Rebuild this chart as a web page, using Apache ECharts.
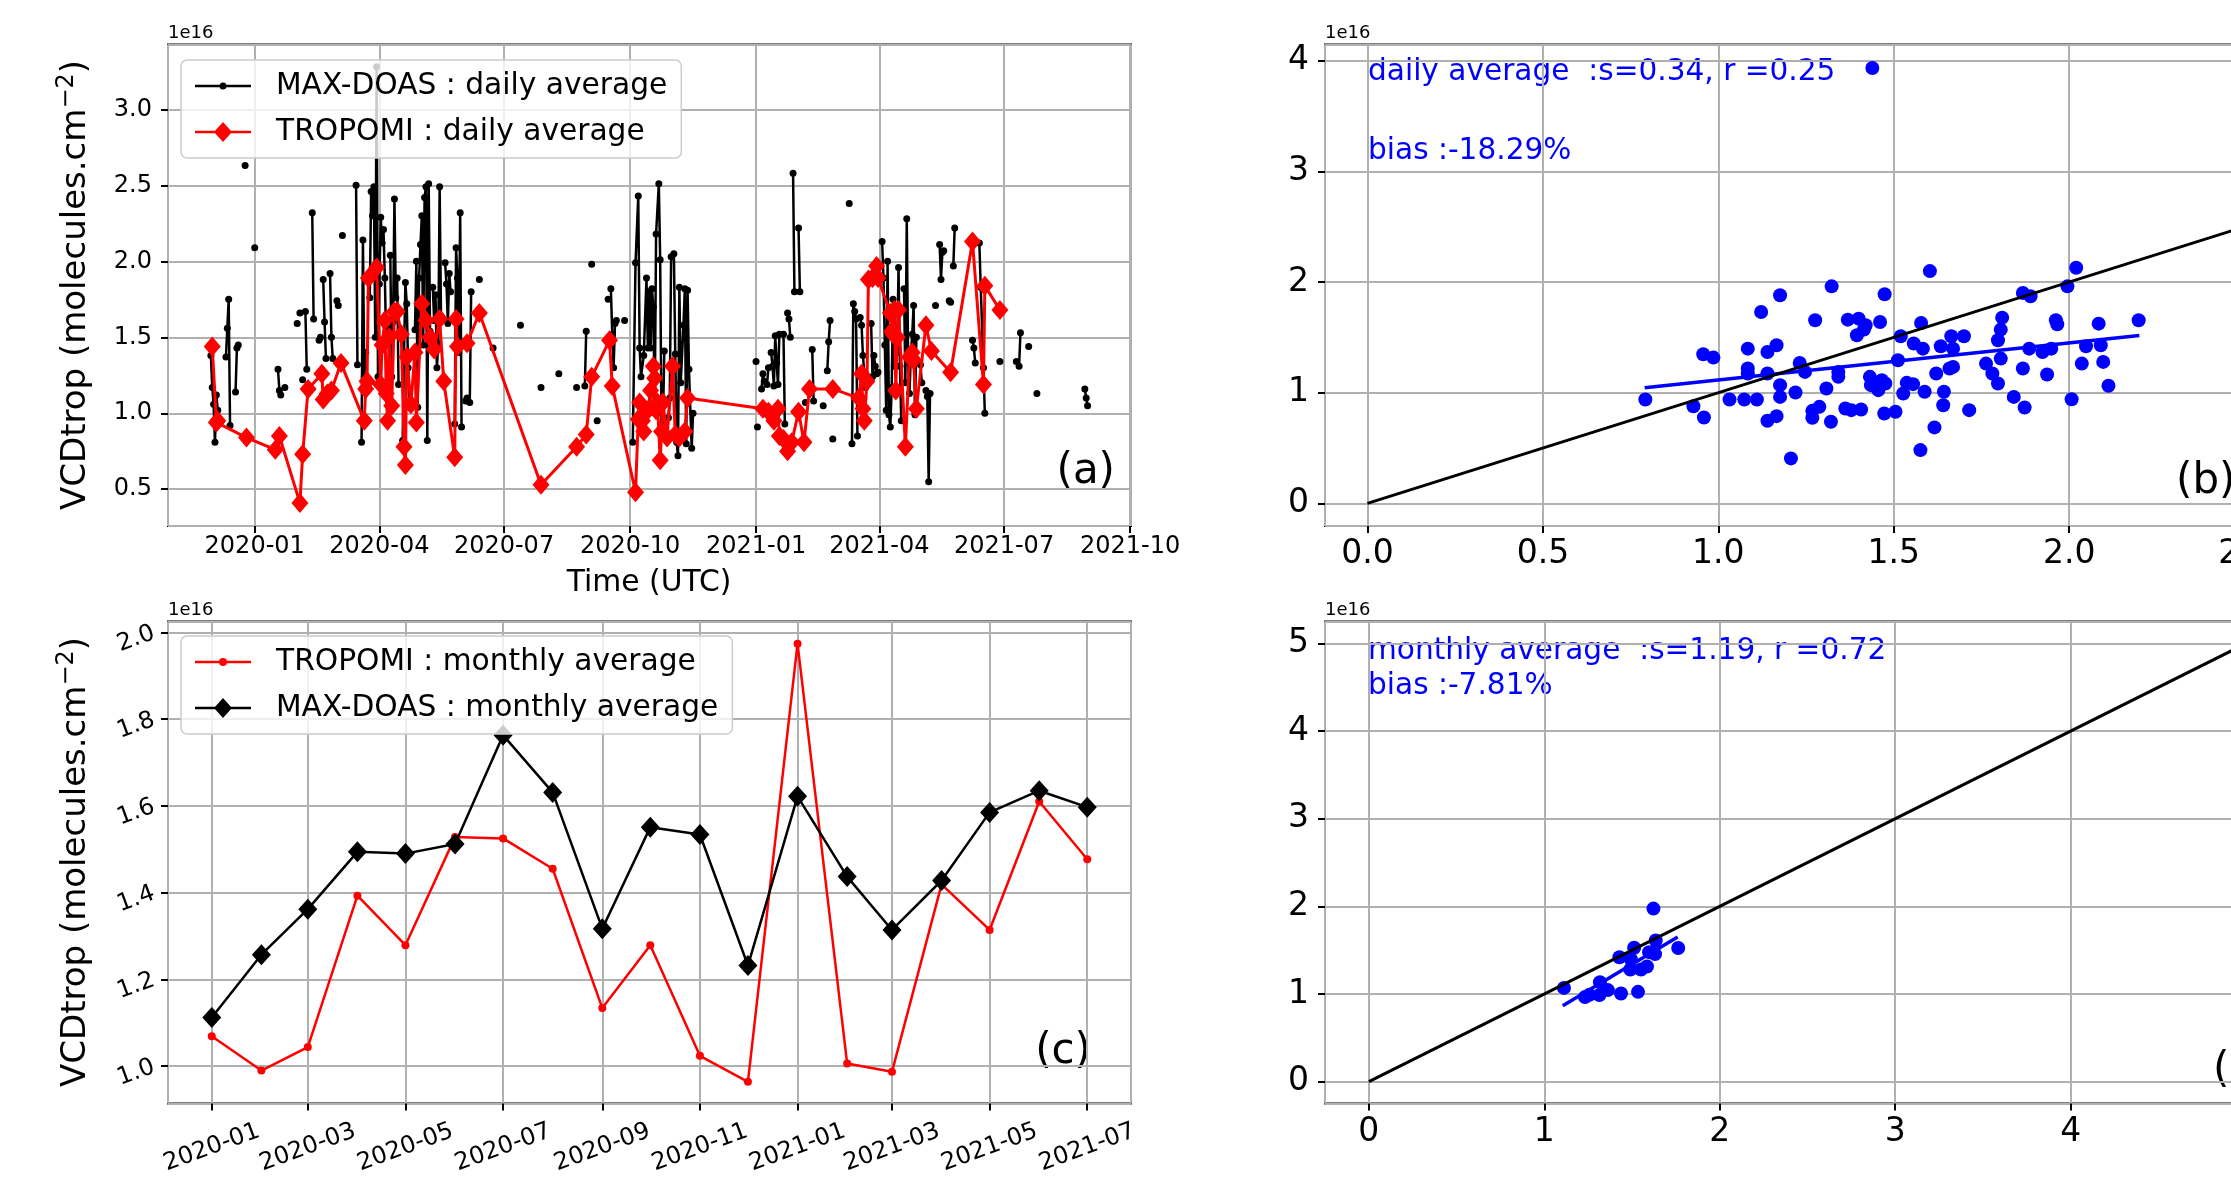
<!DOCTYPE html>
<html><head><meta charset="utf-8">
<script src="https://cdn.jsdelivr.net/npm/echarts@6/dist/echarts.min.js"></script>
<style>html,body{margin:0;padding:0;background:#fff}#c{width:2231px;height:1177px}</style>
</head><body><div id="c"></div>
<script>
// ---------------- DATA ----------------
// day offsets are counted from this date
const BASE_DATE = [2020, 1, 1];

// MAX-DOAS daily averages (1e16 molec/cm2): connected runs of [day offset, value]
const maxdoasDailyRuns = [
 [[-32,1.38],[-31,1.17],[-30,1.06],[-29,0.81],[-28,1.12],[-27,1.02]],
 [[-21,1.37],[-20,1.56],[-19,1.75],[-18,0.92]],
 [[-14,1.14],[-13,1.43],[-12,1.45]],
 [[-7,2.63]],
 [[0,2.09]],
 [[17,1.29],[18,1.15],[19,1.12]],
 [[22,1.17]],
 [[31,1.59]],
 [[33,1.66]],
 [[35,1.22]],
 [[37,1.67],[38,1.29]],
 [[42,2.32],[43,1.62]],
 [[47,1.48],[48,1.50]],
 [[50,1.88],[51,1.60],[52,1.36]],
 [[55,1.92],[56,1.50],[57,1.36]],
 [[60,1.74],[61,1.71]],
 [[64,2.17]],
 [[74,2.50],[75,1.32]],
 [[78,0.81],[79,2.14],[80,1.24],[81,1.40]],
 [[84,1.76],[85,2.46],[86,2.30],[87,2.49],[88,1.50],[89,3.28],[90,1.24],[91,1.85],[92,2.29],[93,2.12],[94,2.21],[95,1.89],[96,1.45],[97,1.56]],
 [[99,2.04],[100,1.24],[101,1.60],[102,2.41],[103,1.76],[104,1.89],[105,1.19]],
 [[108,0.82],[109,1.40],[110,1.86],[111,1.72],[112,1.30],[113,1.06],[114,1.04]],
 [[117,1.55],[118,2.00],[119,1.04],[120,1.89],[121,2.11],[122,2.30],[123,1.45],[124,2.42],[125,2.49],[126,0.82],[127,2.51],[128,1.54]],
 [[130,1.83],[131,1.61],[132,1.78],[133,1.30],[134,1.46],[135,2.49],[136,1.64]],
 [[139,1.99],[140,1.85],[141,1.59],[142,1.92],[143,1.80]],
 [[146,0.93],[147,2.09],[148,1.89],[149,1.40],[150,2.32],[151,0.91]],
 [[154,1.08],[155,1.10]],
 [[157,1.07],[158,1.80]],
 [[164,1.88]],
 [[174,1.43]],
 [[194,1.58]],
 [[209,1.17]],
 [[222,1.26]],
 [[235,1.17]],
 [[241,1.18],[242,1.54]],
 [[246,1.98]],
 [[250,0.95]],
 [[258,1.75]],
 [[260,1.82],[261,1.52],[262,1.30],[263,1.59],[264,1.61]],
 [[270,1.61]],
 [[276,0.81],[278,1.99],[280,2.43],[281,1.43],[282,1.24],[284,1.38],[286,1.89],[287,1.43],[288,1.80],[289,1.43],[290,1.82],[291,1.70],[292,1.00],[293,2.18],[295,2.51],[296,2.01],[297,0.85],[298,0.93],[299,1.41]],
 [[302,0.97],[303,1.10],[304,2.03],[306,2.05],[307,1.39],[308,0.81],[309,0.72],[310,1.83],[311,1.20],[313,1.58],[314,1.82],[315,0.80],[316,1.81],[317,1.29],[319,0.77],[320,1.00]],
 [[366,1.34]],
 [[367,0.91]],
 [[370,1.16],[371,1.26],[372,1.21]],
 [[374,1.19],[375,1.30]],
 [[377,1.40],[378,1.31],[379,1.18],[380,1.51],[381,1.33],[382,1.19],[383,1.52]],
 [[386,1.52],[387,0.93]],
 [[389,1.66],[390,1.62],[391,1.50]],
 [[393,2.58],[394,1.80]],
 [[397,2.22],[398,1.80]],
 [[402,1.07]],
 [[407,1.42],[408,1.08]],
 [[415,1.05]],
 [[418,1.28],[419,1.47],[420,1.61]],
 [[422,0.83]],
 [[434,2.38]],
 [[436,0.80],[437,1.72],[438,1.67],[439,1.62],[440,0.85]],
 [[442,1.63],[443,1.58],[444,1.38],[445,1.27],[446,1.17]],
 [[450,1.59],[451,1.24],[452,1.38],[453,1.31],[454,1.26],[455,1.27]],
 [[458,2.13],[459,1.89],[460,1.45],[461,1.02],[462,2.00],[463,0.99],[464,0.91],[465,1.17],[466,1.75],[467,1.31],[468,1.51],[469,1.40],[470,1.96],[471,1.31],[472,0.95]],
 [[474,1.82],[475,1.20],[476,2.28],[477,1.34],[478,1.13],[479,1.39],[480,1.52],[481,1.71],[482,0.99],[483,1.50]],
 [[486,1.32],[487,1.20]],
 [[490,1.15],[491,1.11],[492,0.55],[493,1.13]],
 [[497,1.71]],
 [[500,2.11],[501,1.88],[502,2.06],[503,2.07]],
 [[507,1.74],[508,1.73]],
 [[510,1.97],[511,2.22]],
 [[524,1.48],[525,1.43],[526,1.33]],
 [[529,2.12],[530,1.83],[532,1.30],[533,1.00]],
 [[544,1.34]],
 [[556,1.34]],
 [[558,1.31],[559,1.53]],
 [[565,1.44]],
 [[571,1.13]],
 [[606,1.16],[607,1.10],[608,1.05]]
];

// TROPOMI daily averages: [day offset, value]
const tropomiDaily = [
 [-31,1.44],[-28,0.94],[-27,0.95],[-6,0.84],[15,0.76],[18,0.85],[33,0.41],[35,0.73],[39,1.16],[49,1.26],
 [50,1.09],[53,1.13],[56,1.15],[63,1.33],[80,0.95],[81,1.16],[82,1.21],[83,1.89],[89,1.96],[92,1.19],
 [93,1.45],[95,1.61],[96,1.13],[97,0.95],[98,1.50],[100,1.05],[102,1.67],[104,1.67],[107,1.52],[109,0.78],
 [110,0.66],[111,1.37],[114,1.06],[117,1.40],[118,0.94],[122,1.72],[125,1.61],[128,1.50],[131,1.42],[135,1.62],
 [138,1.21],[146,0.71],[147,1.62],[148,1.44],[155,1.46],[164,1.66],[209,0.53],[235,0.78],[242,0.86],[246,1.24],
 [259,1.48],[261,1.18],[278,0.48],[280,0.96],[281,1.07],[283,0.95],[284,0.88],[287,1.02],[289,1.15],[291,1.31],
 [292,1.23],[293,1.02],[294,1.07],[296,0.69],[297,0.88],[298,1.07],[301,0.84],[305,1.31],[307,0.86],[310,0.84],
 [314,0.88],[316,1.10],[371,1.03],[375,1.01],[379,0.95],[382,1.03],[383,0.85],[386,0.83],[389,0.75],[392,0.81],
 [397,1.01],[401,0.81],[405,1.16],[422,1.16],[441,1.10],[443,1.26],[444,1.03],[445,0.95],[447,1.21],[448,1.88],
 [451,1.89],[454,1.97],[455,1.89],[464,1.66],[465,1.54],[466,1.52],[467,1.68],[468,1.15],[469,1.50],[470,1.68],
 [475,0.78],[478,1.37],[480,1.40],[481,1.35],[483,1.03],[490,1.58],[494,1.41],[508,1.27],[524,2.13],[532,1.19],
 [533,1.84],[544,1.68]
];

// Monthly averages (plotted at the first day of each month)
const months = ['2020-01','2020-02','2020-03','2020-04','2020-05','2020-06','2020-07','2020-08','2020-09','2020-10',
                '2020-11','2020-12','2021-01','2021-02','2021-03','2021-04','2021-05','2021-06','2021-07'];
const tropomiMonthly = [1.069,0.990,1.044,1.393,1.279,1.528,1.525,1.455,1.134,1.279,1.024,0.964,1.974,1.006,0.987,1.419,1.314,1.610,1.477];
const maxdoasMonthly = [1.112,1.257,1.362,1.494,1.490,1.512,1.763,1.631,1.317,1.551,1.534,1.232,1.622,1.437,1.314,1.428,1.585,1.635,1.597];

// Daily scatter (b): [MAX-DOAS, TROPOMI]
const dailyPairs = [
 [0.792,0.938],[0.929,0.878],[0.957,1.347],[0.986,1.317],[0.959,0.776],[1.032,0.938],[1.074,0.938],[1.110,0.938],
 [1.084,1.398],[1.084,1.218],[1.084,1.173],[1.122,1.729],[1.140,1.368],[1.166,1.429],[1.140,1.173],[1.140,0.746],
 [1.166,0.788],[1.176,1.880],[1.176,1.068],[1.176,0.962],[1.207,0.406],[1.220,1.002],[1.232,1.269],[1.247,1.188],
 [1.268,0.836],[1.268,0.773],[1.288,0.872],[1.308,1.038],[1.321,0.737],[1.323,1.961],[1.276,1.654],[1.342,1.143],
 [1.342,1.188],[1.362,0.857],[1.379,0.842],[1.407,0.848],[1.369,1.660],[1.400,1.669],[1.420,1.609],[1.415,1.570],
 [1.395,1.519],[1.461,1.639],[1.474,1.889],[1.432,1.143],[1.435,1.068],[1.456,1.023],[1.466,1.113],[1.476,1.083],
 [1.473,0.812],[1.505,0.827],[1.512,1.293],[1.520,1.510],[1.527,0.992],[1.537,1.089],[1.555,1.077],[1.557,1.444],
 [1.578,1.630],[1.583,1.398],[1.588,1.008],[1.603,2.099],[1.576,0.481],[1.616,0.686],[1.621,1.173],[1.634,1.420],
 [1.641,0.887],[1.643,1.008],[1.659,1.218],[1.669,1.233],[1.664,1.510],[1.669,1.398],[1.700,1.510],[1.715,0.842],
 [1.763,1.263],[1.781,1.173],[1.797,1.083],[1.805,1.308],[1.797,1.474],[1.805,1.570],[1.809,1.678],[1.842,0.962],
 [1.873,0.866],[1.868,1.218],[1.868,1.901],[1.890,1.871],[1.886,1.398],[1.924,1.368],[1.937,1.164],[1.949,1.398],
 [1.962,1.654],[1.966,1.618],[1.995,1.961],[2.007,0.941],[2.020,2.129],[2.036,1.263],[2.048,1.420],[2.084,1.624],
 [2.090,1.429],[2.097,1.278],[2.112,1.062],[2.198,1.654],[1.439,3.935]
];
const fitDaily = [[0.79,1.044],[2.20,1.516]];
const oneToOneDaily = [[0,0],[2.5,2.5]];
const fitMonthly = [[1.105,0.865],[1.76,1.65]];
const oneToOneMonthly = [[0,0],[5,5]];

const statsDaily = ['daily average  :s=0.34, r =0.25', 'bias :-18.29%'];
const statsMonthly = ['monthly average  :s=1.19, r =0.72', 'bias :-7.81%'];
const yTitleMain = 'VCDtrop (molecules.cm';
const yTitleSup = '\u22122';

// ---------------- HELPERS ----------------
const DAY = 86400000;
const T0 = Date.UTC(BASE_DATE[0], BASE_DATE[1] - 1, BASE_DATE[2]);
const ts = d => T0 + d * DAY;
const monthTs = m => { const p = m.split('-'); return Date.UTC(+p[0], +p[1] - 1, 1); };
const FONT = 'DejaVu Sans';

const blackDaily = [];
maxdoasDailyRuns.forEach((run, i) => {
  if (i > 0) blackDaily.push([ts(run[0][0]), '-']);
  run.forEach(p => blackDaily.push([ts(p[0]), p[1]]));
});
const redDaily = tropomiDaily.map(p => [ts(p[0]), p[1]]);
const redMonthly = months.map((m, i) => [monthTs(m), tropomiMonthly[i]]);
const blackMonthly = months.map((m, i) => [monthTs(m), maxdoasMonthly[i]]);
const monthlyPairs = months.map((m, i) => [maxdoasMonthly[i], tropomiMonthly[i]]);

const tick = {show: true, length: 7, lineStyle: {color: '#000', width: 2}};
const split = {show: true, lineStyle: {color: '#b0b0b0', width: 2}};
function axisBase(extra) {
  return Object.assign({
    axisLine: {show: false, onZero: false},
    axisTick: tick,
    splitLine: split
  }, extra);
}
function lbl(fontSize, margin, formatter, extra) {
  return Object.assign({color: '#000', fontFamily: FONT, fontSize: fontSize, margin: margin,
    showMinLabel: false, showMaxLabel: false, formatter: formatter}, extra || {});
}
const f1 = v => v.toFixed(1);
const f0 = v => v.toFixed(0);

const lineIcon = (extra) => 'path://M0,0M56,22M0,9.75L56,9.75L56,12.25L0,12.25Z' + extra;
const dotIconS = lineIcon('M24.5,11A3.5,3.5,0,1,1,31.5,11A3.5,3.5,0,1,1,24.5,11Z');
const dotIconM = lineIcon('M24,11A4,4,0,1,1,32,11A4,4,0,1,1,24,11Z');
const diaIcon = lineIcon('M28,1L37,11L28,21L19,11Z');

const legendBase = {
  orient: 'vertical', itemWidth: 56, itemHeight: 22, itemGap: 10,
  padding: [8, 14, 8, 14],
  backgroundColor: 'rgba(255,255,255,0.8)', borderColor: '#cccccc', borderWidth: 1.5, borderRadius: 6,
  itemStyle: {borderWidth: 0},
  textStyle: {fontFamily: FONT, fontSize: 29.7, color: '#000', lineHeight: 36, padding: [0, 0, 0, 20]},
  selectedMode: false
};

function yTitle(x, y) {
  return {type: 'text', x: x, y: y, rotation: Math.PI / 2,
    style: {text: '{m|' + yTitleMain + '}{s|' + yTitleSup + '}{m|)}', align: 'center', verticalAlign: 'middle',
      rich: {m: {fontFamily: FONT, fontSize: 34, fill: '#000', lineHeight: 42},
             s: {fontFamily: FONT, fontSize: 24, fill: '#000', lineHeight: 24, verticalAlign: 'top'}}}};
}
function txt(x, y, text, size, color, align) {
  return {type: 'text', x: x, y: y, style: {text: text, fontFamily: FONT, fontSize: size, fill: color, align: align, verticalAlign: 'middle'}};
}

const option = {
  animation: false,
  useUTC: true,
  backgroundColor: '#fff',
  textStyle: {fontFamily: FONT},
  grid: [
    {left: 168, top: 44.5, width: 963, height: 481.5, show: true, borderColor: '#000', borderWidth: 2, outerBoundsMode: 'none'},
    {left: 1325, top: 44.5, width: 934, height: 481.5, show: true, borderColor: '#000', borderWidth: 2, outerBoundsMode: 'none'},
    {left: 168, top: 621.5, width: 963, height: 482, show: true, borderColor: '#000', borderWidth: 2, outerBoundsMode: 'none'},
    {left: 1325, top: 621.5, width: 965, height: 482, show: true, borderColor: '#000', borderWidth: 2, outerBoundsMode: 'none'}
  ],
  xAxis: [
    axisBase({type: 'time', gridIndex: 0, min: ts(-63.3), max: ts(639.7),
      minInterval: 91 * DAY, maxInterval: 91 * DAY,
      axisLabel: lbl(24, 9, '{yyyy}-{MM}')}),
    axisBase({type: 'value', gridIndex: 1, min: -0.121, max: 2.541, minInterval: 0.5, maxInterval: 0.5,
      axisLabel: lbl(33, 12, f1)}),
    axisBase({type: 'time', gridIndex: 2, min: ts(-27.35), max: ts(547 + 27.35),
      minInterval: 61 * DAY, maxInterval: 61 * DAY,
      axisLabel: lbl(24, 44, '{yyyy}-{MM}', {rotate: 20, align: 'center', verticalAlign: 'middle'})}),
    axisBase({type: 'value', gridIndex: 3, min: -0.25, max: 5.25, minInterval: 1, maxInterval: 1,
      axisLabel: lbl(33, 12, f0)})
  ],
  yAxis: [
    axisBase({type: 'value', gridIndex: 0, min: 0.258, max: 3.427, minInterval: 0.5, maxInterval: 0.5,
      axisLabel: lbl(24, 16, f1)}),
    axisBase({type: 'value', gridIndex: 1, min: -0.205, max: 4.147, minInterval: 1, maxInterval: 1,
      axisLabel: lbl(33, 16, f0)}),
    axisBase({type: 'value', gridIndex: 2, min: 0.914, max: 2.025, minInterval: 0.2, maxInterval: 0.2,
      axisLabel: lbl(24, 14, f1, {rotate: 20, align: 'right', verticalAlign: 'middle'})}),
    axisBase({type: 'value', gridIndex: 3, min: -0.25, max: 5.25, minInterval: 1, maxInterval: 1,
      axisLabel: lbl(33, 16, f0)})
  ],
  legend: [
    Object.assign({}, legendBase, {left: 181, top: 60,
      data: [{name: 'MAX-DOAS : daily average', icon: dotIconS}, {name: 'TROPOMI : daily average', icon: diaIcon}]}),
    Object.assign({}, legendBase, {left: 181, top: 636,
      data: [{name: 'TROPOMI : monthly average', icon: dotIconM}, {name: 'MAX-DOAS : monthly average', icon: diaIcon}]})
  ],
  series: [
    {name: 'MAX-DOAS : daily average', type: 'line', xAxisIndex: 0, yAxisIndex: 0, data: blackDaily,
      connectNulls: false, symbol: 'circle', symbolSize: 7, showSymbol: true,
      itemStyle: {color: '#000', borderWidth: 0}, lineStyle: {color: '#000', width: 2.5}, z: 2},
    {name: 'TROPOMI : daily average', type: 'line', xAxisIndex: 0, yAxisIndex: 0, data: redDaily,
      symbol: 'diamond', symbolSize: [17, 20], showSymbol: true,
      itemStyle: {color: '#ff0000', borderWidth: 0}, lineStyle: {color: '#ff0000', width: 3}, z: 3},
    {name: 'daily scatter', type: 'scatter', xAxisIndex: 1, yAxisIndex: 1, data: dailyPairs,
      symbol: 'circle', symbolSize: 14, itemStyle: {color: '#0000ff', opacity: 1}, z: 2},
    {name: 'daily fit', type: 'line', xAxisIndex: 1, yAxisIndex: 1, data: fitDaily, showSymbol: false, symbol: 'none',
      lineStyle: {color: '#0000ff', width: 3.5}, z: 3},
    {name: 'daily 1:1', type: 'line', xAxisIndex: 1, yAxisIndex: 1, data: oneToOneDaily, showSymbol: false, symbol: 'none',
      lineStyle: {color: '#000', width: 3}, z: 4},
    {name: 'TROPOMI : monthly average', type: 'line', xAxisIndex: 2, yAxisIndex: 2, data: redMonthly,
      symbol: 'circle', symbolSize: 8, showSymbol: true,
      itemStyle: {color: '#ff0000', borderWidth: 0}, lineStyle: {color: '#ff0000', width: 2.5}, z: 2},
    {name: 'MAX-DOAS : monthly average', type: 'line', xAxisIndex: 2, yAxisIndex: 2, data: blackMonthly,
      symbol: 'diamond', symbolSize: [19, 21], showSymbol: true,
      itemStyle: {color: '#000', borderWidth: 0}, lineStyle: {color: '#000', width: 2.5}, z: 3},
    {name: 'monthly scatter', type: 'scatter', xAxisIndex: 3, yAxisIndex: 3, data: monthlyPairs,
      symbol: 'circle', symbolSize: 14, itemStyle: {color: '#0000ff', opacity: 1}, z: 2},
    {name: 'monthly fit', type: 'line', xAxisIndex: 3, yAxisIndex: 3, data: fitMonthly, showSymbol: false, symbol: 'none',
      lineStyle: {color: '#0000ff', width: 3.5}, z: 3},
    {name: 'monthly 1:1', type: 'line', xAxisIndex: 3, yAxisIndex: 3, data: oneToOneMonthly, showSymbol: false, symbol: 'none',
      lineStyle: {color: '#000', width: 3}, z: 4}
  ],
  graphic: [
    txt(168, 33, '1e16', 18, '#000', 'left'),
    txt(1325, 33, '1e16', 18, '#000', 'left'),
    txt(168, 610, '1e16', 18, '#000', 'left'),
    txt(1325, 610, '1e16', 18, '#000', 'left'),
    yTitle(76, 285),
    yTitle(76, 862),
    txt(649, 583, 'Time (UTC)', 29.8, '#000', 'center'),
    txt(1115, 472, '(a)', 42, '#000', 'right'),
    txt(2176, 482, '(b)', 42, '#000', 'left'),
    txt(1091, 1052, '(c)', 42, '#000', 'right'),
    txt(2213, 1071, '(d)', 42, '#000', 'left'),
    txt(1368, 72, statsDaily[0], 29.6, '#0000ff', 'left'),
    txt(1368, 151, statsDaily[1], 29.6, '#0000ff', 'left'),
    txt(1368, 651, statsMonthly[0], 29.6, '#0000ff', 'left'),
    txt(1368, 686, statsMonthly[1], 29.6, '#0000ff', 'left')
  ]
};

const chart = echarts.init(document.getElementById('c'), null, {renderer: 'canvas', width: 2231, height: 1177});
chart.setOption(option);
</script>
</body></html>
